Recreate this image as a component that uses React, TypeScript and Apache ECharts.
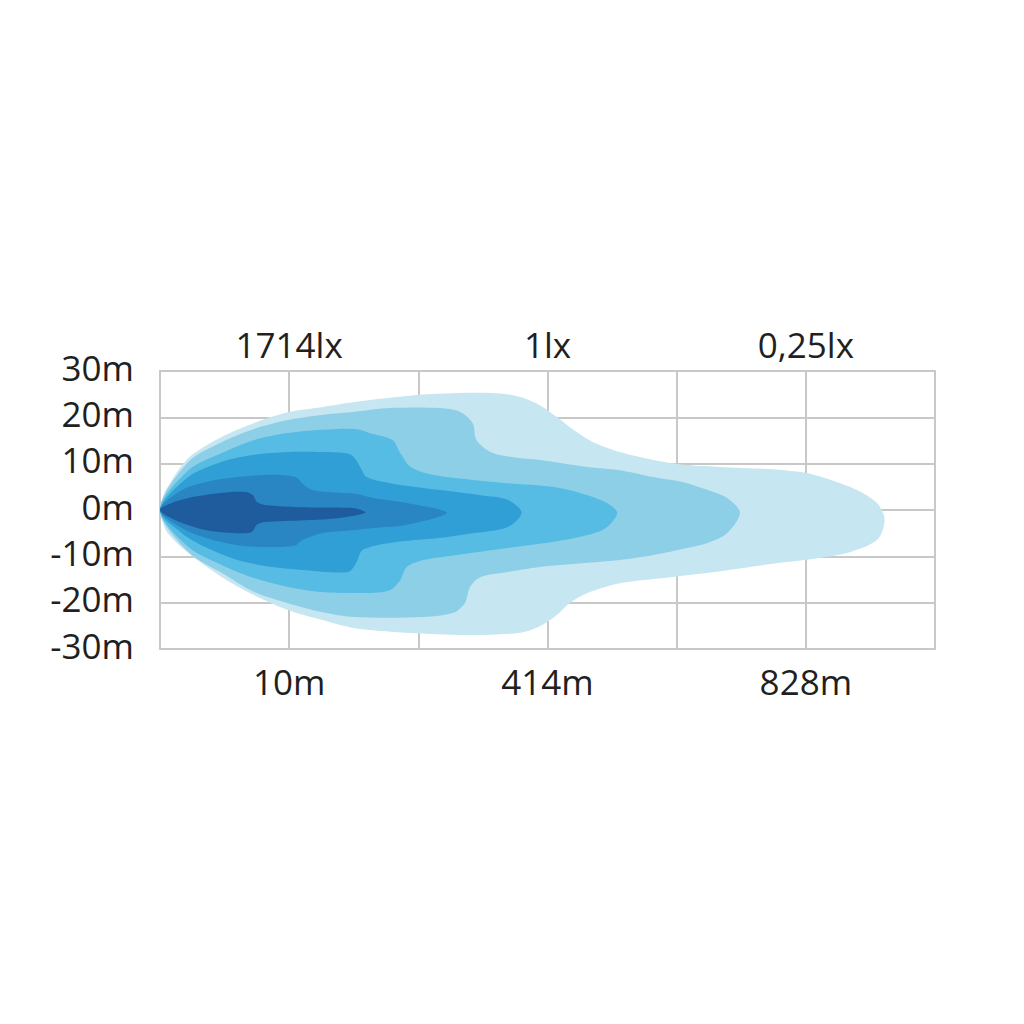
import React, { useEffect, useRef } from 'react';
import * as echarts from 'echarts';

// x axis: column index 0..6 (gridline positions), y axis: lateral distance in metres
const xTickValues = [0, 1, 2, 3, 4, 5, 6];
const distanceLabels = ['', '10m', '', '414m', '', '828m', ''];
const illuminanceLabels = ['', '1714lx', '', '1lx', '', '0,25lx', ''];
const yTickValues = [-30, -20, -10, 0, 10, 20, 30];
const yTickLabels = ['-30m', '-20m', '-10m', '0m', '10m', '20m', '30m'];

// Isolux zones, outermost (weakest) to innermost (strongest)
const zone1 = [
  [0, 0], [0.02, 2.6], [0.06, 5.0], [0.22, 11.2], [0.48, 15.8], [0.73, 18.8], [0.99, 21.1], [1.25, 22.2],
  [1.51, 23.3], [1.99, 24.8], [2.42, 25.3], [2.69, 25.0], [2.82, 24.1], [2.94, 22.6], [3.07, 20.1],
  [3.20, 17.3], [3.35, 14.7], [3.56, 12.5], [3.82, 10.8], [4.08, 9.7], [4.34, 9.3],
  [4.96, 8.2], [5.34, 5.0], [5.55, 1.5], [5.61, -2.2], [5.55, -6.5], [5.34, -9.1],
  [5.09, -10.4], [4.80, -11.4], [4.34, -13.2], [3.95, -14.5], [3.56, -15.8], [3.31, -17.9],
  [3.17, -20.1], [3.07, -22.7], [2.94, -25.1], [2.79, -26.5], [2.42, -27.0], [1.99, -26.6],
  [1.51, -25.5], [1.25, -23.7], [0.99, -21.6], [0.73, -18.4], [0.48, -14.5], [0.22, -9.3],
  [0.06, -5.0], [0.02, -2.6],
];
const zone2 = [
  [0, 0], [0.22, 10.4], [0.48, 14.7], [0.73, 17.5], [0.99, 19.4], [1.25, 20.5], [1.51, 21.2],
  [1.78, 22.0], [2.17, 22.0], [2.32, 21.2], [2.42, 18.8], [2.45, 15.1], [2.56, 12.5],
  [2.73, 11.4], [2.94, 10.8], [3.31, 9.3], [3.56, 8.6], [3.82, 7.1], [4.08, 5.8],
  [4.24, 4.3], [4.39, 2.6], [4.49, -0.6], [4.39, -5.0], [4.24, -7.1], [4.08, -8.2],
  [3.82, -9.7], [3.56, -10.8], [3.31, -11.4], [2.94, -12.3], [2.69, -13.4],
  [2.48, -14.5], [2.40, -16.6], [2.36, -20.1], [2.27, -22.2], [2.04, -23.1],
  [1.51, -23.1], [1.25, -22.0], [0.99, -20.1], [0.73, -17.7], [0.48, -13.6], [0.22, -9.1],
];
const zone3 = [
  [0, 0], [0.22, 8.6], [0.48, 12.3], [0.73, 15.1], [0.99, 16.6], [1.25, 17.3], [1.51, 17.5],
  [1.65, 16.4], [1.80, 15.1], [1.86, 12.3], [1.94, 9.3], [2.11, 7.6], [2.42, 6.5], [2.69, 5.8],
  [3.04, 5.0], [3.31, 3.2], [3.46, 1.5], [3.54, -0.6], [3.46, -3.7], [3.31, -5.4],
  [3.04, -6.9], [2.69, -8.2], [2.30, -9.7], [2.04, -10.8], [1.91, -12.3],
  [1.86, -15.1], [1.78, -17.3], [1.60, -17.9], [1.25, -17.7], [0.99, -16.6],
  [0.73, -14.7], [0.48, -11.9], [0.22, -8.0],
];
const zone4 = [
  [0, 0], [0.22, 7.1], [0.48, 10.4], [0.73, 11.9], [0.99, 12.5], [1.25, 12.5], [1.43, 12.3],
  [1.49, 11.7], [1.55, 9.3], [1.60, 7.1], [1.78, 5.8], [2.17, 4.3], [2.48, 3.2], [2.69, 2.2],
  [2.80, -0.6], [2.69, -3.7], [2.42, -5.0], [2.17, -6.0], [1.78, -7.1], [1.57, -8.6],
  [1.52, -11.4], [1.47, -13.2], [1.38, -13.5], [1.13, -13.0], [0.87, -12.3], [0.60, -10.8],
  [0.35, -8.0], [0.17, -5.0],
];
const zone5 = [
  [0, 0], [0.17, 4.3], [0.35, 6.0], [0.60, 7.1], [0.87, 7.6], [1.05, 7.1], [1.10, 5.8],
  [1.18, 4.3], [1.38, 3.7], [1.51, 3.5], [1.65, 2.6], [1.91, 1.5], [2.22, -0.6], [1.91, -3.2],
  [1.65, -3.9], [1.51, -4.3], [1.25, -5.0], [1.10, -6.5], [1.05, -7.6], [0.87, -8.0],
  [0.60, -7.6], [0.35, -6.0], [0.17, -3.9],
];
const zone6 = [
  [0, 0], [0.09, 1.5], [0.22, 2.6], [0.48, 3.7], [0.66, 3.9], [0.72, 3.2], [0.75, 1.7],
  [0.81, 1.1], [1.12, 0.6], [1.51, 0.4], [1.59, -0.6], [1.39, -1.7], [1.12, -2.2], [0.81, -2.6],
  [0.75, -3.2], [0.71, -4.75], [0.60, -5.0], [0.35, -4.3], [0.12, -2.2],
];
const zoneColors = ['#c6e6f1', '#8ecfe8', '#56bce3', '#2f9fd5', '#2986c3', '#1e5c9e'];

const FONT = '"Open Sans", "Noto Sans", sans-serif';
const TEXT_COLOR = '#231f20';
const GRID_COLOR = '#c8c8c8';

export default function App() {
  const ref = useRef<HTMLDivElement>(null);
  useEffect(() => {
    const chart = echarts.init(ref.current as HTMLDivElement, null, { renderer: 'svg' });
    const zones = [zone1, zone2, zone3, zone4, zone5, zone6];
    const series = zones.map((pts, i) => ({
      type: 'custom',
      coordinateSystem: 'cartesian2d',
      xAxisIndex: 0,
      yAxisIndex: 0,
      data: pts,
      encode: { x: 0, y: 1 },
      z: 2 + i,
      silent: true,
      renderItem: (params: any, api: any) => {
        if (params.dataIndex !== 0) return null;
        const points = pts.map((p) => api.coord(p));
        return {
          type: 'polygon',
          shape: { points, smooth: 0.3 },
          style: { fill: zoneColors[i] },
        };
      },
    }));
    const labelFor = (labels: string[]) => (v: number) => {
      const idx = xTickValues.indexOf(Math.round(v));
      return idx >= 0 ? labels[idx] : '';
    };
    chart.setOption({
      animation: false,
      backgroundColor: '#ffffff',
      grid: { left: 160, right: 89, top: 371, bottom: 375, containLabel: false },
      xAxis: [
        {
          type: 'value', position: 'bottom', min: 0, max: 6, interval: 1,
          axisLine: { show: true, onZero: false, lineStyle: { color: GRID_COLOR, width: 2 } },
          axisTick: { show: false },
          splitLine: { show: true, lineStyle: { color: GRID_COLOR, width: 2 } },
          axisLabel: {
            show: true, margin: 15, fontSize: 35, fontFamily: FONT, color: TEXT_COLOR,
            formatter: labelFor(distanceLabels),
          },
        },
        {
          type: 'value', position: 'top', min: 0, max: 6, interval: 1,
          axisLine: { show: true, onZero: false, lineStyle: { color: GRID_COLOR, width: 2 } },
          axisTick: { show: false },
          splitLine: { show: false },
          axisLabel: {
            show: true, margin: 9, fontSize: 35, fontFamily: FONT, color: TEXT_COLOR,
            formatter: labelFor(illuminanceLabels),
          },
        },
      ],
      yAxis: {
        type: 'value', min: -30, max: 30, interval: 10,
        axisLine: { show: true, onZero: false, lineStyle: { color: GRID_COLOR, width: 2 } },
        axisTick: { show: false },
        splitLine: { show: true, lineStyle: { color: GRID_COLOR, width: 2 } },
        axisLabel: {
          show: true, margin: 26, fontSize: 35, fontFamily: FONT, color: TEXT_COLOR,
          formatter: (v: number) => {
            const idx = yTickValues.indexOf(Math.round(v));
            return idx >= 0 ? `{t|${yTickLabels[idx]}}` : '';
          },
          rich: {
            t: {
              fontSize: 35, fontFamily: FONT, color: TEXT_COLOR,
              padding: [0, 0, 8, 0],
            },
          },
        },
      },
      series,
    });
    return () => chart.dispose();
  }, []);
  return (
    <div
      ref={ref}
      style={{ position: 'absolute', left: 0, top: 0, width: 1024, height: 1024, background: '#fff' }}
    />
  );
}
